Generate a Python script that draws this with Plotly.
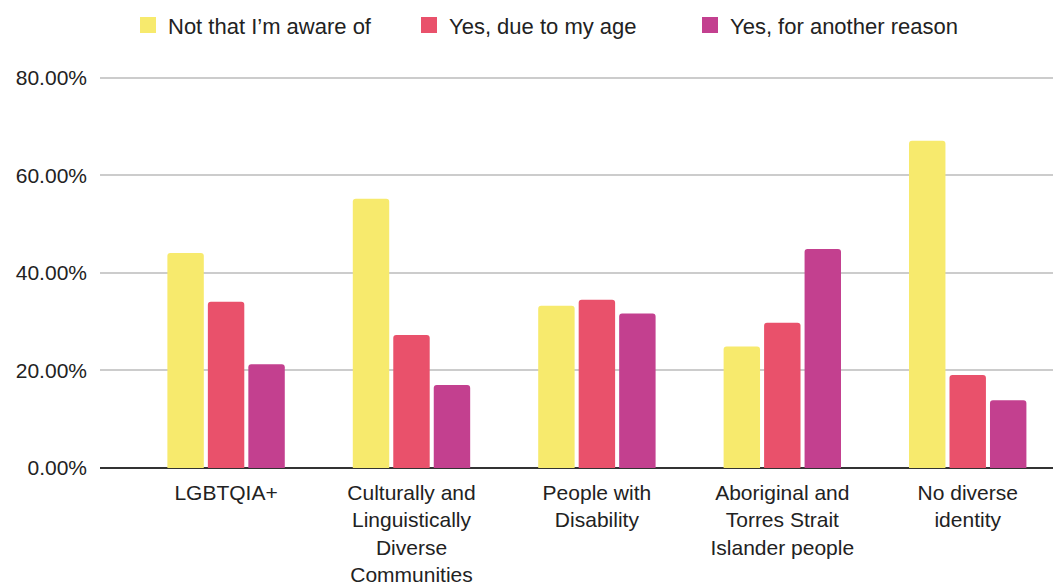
import plotly.graph_objects as go

categories = ["LGBTQIA+", "Culturally and<br>Linguistically<br>Diverse<br>Communities",
              "People with<br>Disability", "Aboriginal and<br>Torres Strait<br>Islander people",
              "No diverse<br>identity"]
series_names = ["Not that I’m aware of", "Yes, due to my age", "Yes, for another reason"]
not_aware = [44.1, 55.2, 33.3, 24.9, 67.1]
due_to_age = [34.1, 27.3, 34.5, 29.8, 19.1]
another_reason = [21.3, 17.0, 31.7, 44.9, 13.9]
colors = ["#F7EA6D", "#E9516B", "#C3408F"]
tick_vals = [0, 20, 40, 60, 80]
tick_text = ["0.00%", "20.00%", "40.00%", "60.00%", "80.00%"]

FONT = "Liberation Sans, Arial, sans-serif"
fig = go.Figure()
for name, vals, col in zip(series_names, [not_aware, due_to_age, another_reason], colors):
    fig.add_trace(go.Bar(x=list(range(len(categories))), y=vals, name=name,
                         marker=dict(color=col, line=dict(width=0)), showlegend=False))
    fig.add_trace(go.Scatter(x=[None], y=[None], mode="markers", name=name,
                             marker=dict(symbol="square", size=21, color=col)))

fig.update_layout(
    width=1053, height=585,
    margin=dict(l=100, r=0, t=76, b=117),
    paper_bgcolor="white", plot_bgcolor="white",
    barmode="group", bargap=0.345, bargroupgap=0.1, barcornerradius=3,
    font=dict(family=FONT, size=22, color="#222222"),
    legend=dict(orientation="h", x=0.0, xanchor="left", y=0.957, yanchor="middle",
                xref="container", yref="container", entrywidth=236, entrywidthmode="pixels",
                font=dict(size=22, color="#222222")),
    xaxis=dict(range=[-0.68, 4.46], tickmode="array", tickvals=list(range(len(categories))),
               ticktext=categories, showgrid=False, zeroline=False, showline=False,
               ticks="", ticklabelstandoff=10, tickfont=dict(size=21)),
    yaxis=dict(range=[0, 80.4], tickmode="array", tickvals=tick_vals, ticktext=tick_text,
               showgrid=True, gridcolor="#CCCCCC", gridwidth=1.5,
               zeroline=True, zerolinecolor="#333333", zerolinewidth=2,
               showline=False, ticks="", ticklabelstandoff=12, tickfont=dict(size=21)),
)
fig.update_layout(legend_x=128 / 1053)
fig.write_html("out.html")
